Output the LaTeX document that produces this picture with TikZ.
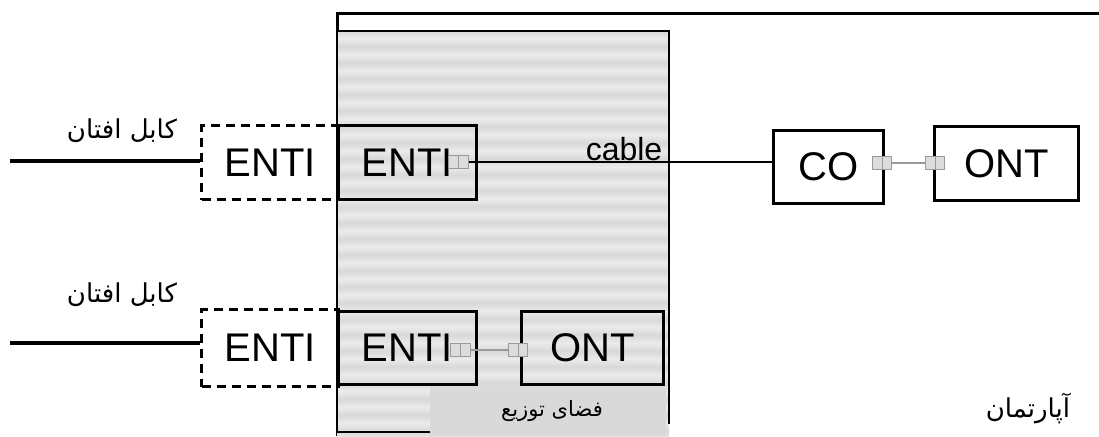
\documentclass[tikz,border=0pt]{standalone}
\usepackage{fontspec}
\setmainfont{Liberation Sans}
\newfontfamily\arabicfont[Script=Arabic]{DejaVu Sans}
\TeXXeTstate=1
\definecolor{bandA}{HTML}{D9D9D9}
\definecolor{bandB}{HTML}{EAEAEA}
\definecolor{tagfill}{HTML}{D9D9D9}
\definecolor{portline}{HTML}{9A9A9A}
\definecolor{portfill}{HTML}{DCDCDC}
\begin{document}
\begin{tikzpicture}[x=1pt,y=-1pt,
  unit/.style={draw, line width=3pt, inner sep=0pt, anchor=north west,
    font=\fontsize{40}{40}\selectfont},
  dunit/.style={unit, dash pattern=on 9pt off 6pt},
  port/.style={draw=portline, fill=portfill, line width=1pt, inner sep=0pt,
    minimum width=20pt, minimum height=13pt,
    path picture={\draw[portline, line width=1pt]
      (path picture bounding box.north) -- (path picture bounding box.south);}},
  feeder/.style={line width=4.2pt},
  patch/.style={portline, line width=1.4pt},
  fa/.style={font=\arabicfont\fontsize{26}{30}\selectfont},
]
\useasboundingbox (0,0) rectangle (1099,436);

% apartment outline
\draw[line width=3pt] (1099,14) -- (337,14) -- (337,436);

% distribution space (soft horizontal banding)
\fill[bandA] (337,31) rectangle (669,432);
\foreach \yy in {31,47,...,431} {
  \shade[top color=bandA, bottom color=bandB] (337,\yy) rectangle (669,\yy+8);
  \shade[top color=bandB, bottom color=bandA] (337,\yy+8) rectangle (669,\yy+16);
}
\fill[tagfill] (430,385) rectangle (666,436);
\node[font=\arabicfont\fontsize{21}{24}\selectfont] (dist) at (552,411) {\beginR فضای توزیع\endR};
\draw[line width=2.8pt] (430,432) -- (337,432) -- (337,31) -- (669,31) -- (669,424);

% upper path
\node[dunit, minimum width=137pt, minimum height=74pt] (d1) at (200,124) {ENTI};
\node[unit, minimum width=138pt, minimum height=74pt] (e1) at (337,124) {ENTI\hspace{22pt}};
\node[port] (p1) at (458,162) {};
\node[unit, fill=white, minimum width=110pt, minimum height=73pt] (co) at (772,129) {CO};
\node[port, minimum width=19pt] (p2) at (882,163) {};
\node[unit, fill=white, minimum width=144pt, minimum height=74pt] (o1) at (933,125) {ONT};
\node[port, minimum width=19pt] (p3) at (935,163) {};
\coordinate (in1) at (10,161);
\draw[feeder] (in1) -- (in1 -| d1.west);
\draw[line width=2.8pt] (p1.east) -- (p1.east -| co.west);
\draw[patch] (p2.east) -- (p3.west);
\node[font=\fontsize{32}{32}\selectfont, anchor=base] (lbl) at (624,160) {cable};
\node[fa] (t1) at (122,131) {\beginR کابل افتان\endR};

% lower path
\node[dunit, minimum width=137pt, minimum height=77pt] (d2) at (200,308) {ENTI};
\node[unit, minimum width=138pt, minimum height=73pt] (e2) at (337,310) {ENTI\hspace{22pt}};
\node[port] (p4) at (460,350) {};
\node[unit, minimum width=142pt, minimum height=73pt] (o2) at (520,310) {ONT};
\node[port, minimum width=19pt] (p5) at (518,350) {};
\coordinate (in2) at (10,343);
\draw[feeder] (in2) -- (in2 -| d2.west);
\draw[patch] (p4.east) -- (p5.west);
\node[fa] (t2) at (122,295) {\beginR کابل افتان\endR};

% apartment label
\node[fa] (apt) at (1028,408) {\beginR آپارتمان\endR};
\end{tikzpicture}
\end{document}
